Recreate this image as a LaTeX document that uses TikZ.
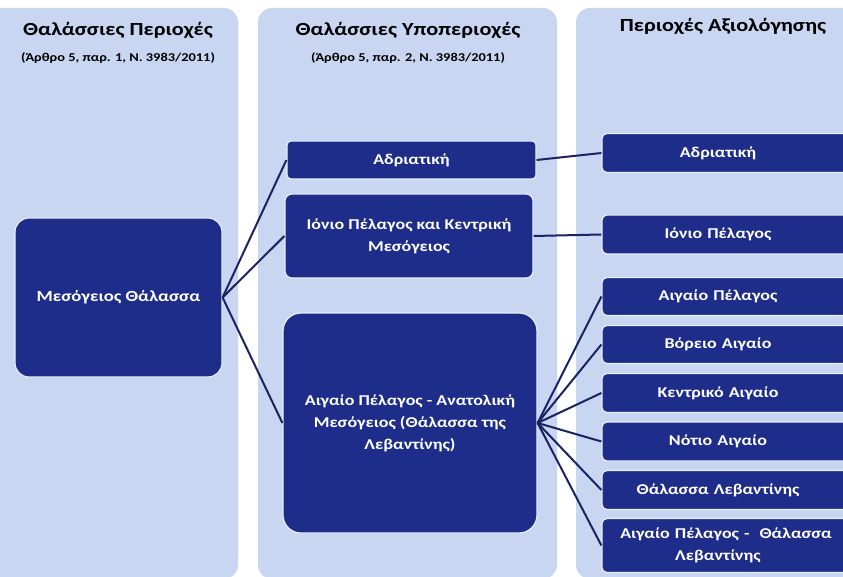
\documentclass[tikz,border=0pt]{standalone}
\usepackage{fontspec}
\setmainfont{Carlito}[FakeStretch=1.2]
\definecolor{panel}{RGB}{201,214,241}
\definecolor{navy}{RGB}{31,45,138}
\definecolor{lnavy}{RGB}{27,35,98}
\definecolor{rim}{RGB}{232,238,250}
\newcommand{\padR}{\hspace*{16pt}}
\tikzset{
  panelbox/.style={fill=panel, rounded corners=14pt},
  head/.style={font=\bfseries\fontsize{18.5}{20}\selectfont, text=black},
  subhead/.style={font=\bfseries\fontsize{12}{13}\selectfont, text=black},
  box/.style={draw=rim, line width=1.2pt, fill=navy, text=white,
    font=\bfseries\fontsize{15}{22}\selectfont, align=center, inner sep=0pt,
    rounded corners=5pt},
  rbox/.style={box, minimum width=248pt, text width=248pt, minimum height=39pt},
  link/.style={draw=lnavy, line width=2pt}
}
\begin{document}
\begin{tikzpicture}[x=1pt,y=-1pt]
\useasboundingbox (0,0) rectangle (843,577);
\fill[white] (0,0) rectangle (843,577);
\clip (0,0) rectangle (843,577);
% panels
\fill[panelbox] (-20,8) rectangle (238,579);
\fill[panelbox] (258,8) rectangle (557,579);
\fill[panelbox] (576,8) rectangle (870,579);
% headings
\node[head] (h1) at (118,30) {Θαλάσσιες Περιοχές};
\node[subhead] (s1) at (118,58) {(Άρθρο 5, παρ. 1, Ν. 3983/2011)};
\node[head] (h2) at (408,30) {Θαλάσσιες Υποπεριοχές};
\node[subhead] (s2) at (408,58) {(Άρθρο 5, παρ. 2, Ν. 3983/2011)};
\node[head] (h3) at (723,26) {Περιοχές Αξιολόγησης};
% left
\node[box, font=\bfseries\fontsize{15.5}{22}\selectfont, rounded corners=14pt, minimum width=207pt, minimum height=159pt] (meso) at (118.5,297.5) {Μεσόγειος Θάλασσα};
% middle
\node[box, rounded corners=4pt, minimum width=249pt, minimum height=38pt] (madr) at (411.5,160) {Αδριατική};
\node[box, rounded corners=7pt, minimum width=248pt, minimum height=84pt] (mion) at (409,236) {Ιόνιο Πέλαγος και Κεντρική\\Μεσόγειος};
\node[box, rounded corners=18pt, minimum width=254pt, minimum height=220pt] (maig) at (410,423) {Αιγαίο Πέλαγος - Ανατολική\\Μεσόγειος (Θάλασσα της\\Λεβαντίνης)};
% right
\node[rbox] (radr) at (726,153) {Αδριατική\padR};
\node[rbox] (rion) at (726,234.5) {Ιόνιο Πέλαγος\padR};
\node[rbox, minimum height=38pt] (raig) at (726,296.5) {Αιγαίο Πέλαγος\padR};
\node[rbox, minimum height=38pt] (rvor) at (726,344.5) {Βόρειο Αιγαίο\padR};
\node[rbox] (rken) at (726,393) {Κεντρικό Αιγαίο\padR};
\node[rbox] (rnot) at (726,441.5) {Νότιο Αιγαίο\padR};
\node[rbox] (rthl) at (726,490) {Θάλασσα Λεβαντίνης\padR};
\node[rbox, minimum height=54pt] (rlst) at (726,545.5) {Αιγαίο Πέλαγος -\ \ Θάλασσα\padR\\Λεβαντίνης\padR};
% connectors
\draw[link] (meso.east) -- (madr.west);
\draw[link] (meso.east) -- (mion.west);
\draw[link] (meso.east) -- (maig.west);
\draw[link] (madr.east) -- (radr.west);
\draw[link] (mion.east) -- (rion.west);
\foreach \t in {raig,rvor,rken,rnot,rthl,rlst}
  \draw[link] (maig.east) -- (\t.west);
\end{tikzpicture}
\end{document}
